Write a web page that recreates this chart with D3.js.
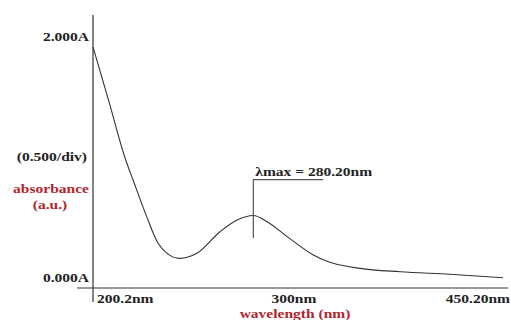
<!DOCTYPE html>
<html>
<head>
<meta charset="utf-8">
<script src="https://cdn.jsdelivr.net/npm/d3@7"></script>
<style>
    body { margin: 0; background: #fff; }
    text { font-family: "Liberation Serif", "Times New Roman", serif; font-weight: bold; }
    .lbl { fill: #222; }
    .red { fill: #b3242c; }
</style>
</head>
<body>
<div id="chart"></div>
<script>
// spectrum (wavelength nm, absorbance)
const wavelengths = [200.2, 208.2, 216.2, 220.2, 227.0, 232.6, 237.0, 243.6, 252.0, 263.6, 272.1, 280.2, 287.1, 297.1, 314.2, 324.7, 328.1, 346.8, 374.8, 409.7, 446.7];
const absorbance = [2.000, 1.544, 1.079, 0.896, 0.592, 0.373, 0.290, 0.246, 0.288, 0.467, 0.564, 0.602, 0.550, 0.426, 0.274, 0.218, 0.205, 0.163, 0.135, 0.114, 0.085];

const xTicks = [200.2, 300, 450.2];
const xTickLabels = ['200.2nm', '300nm', '450.20nm'];
const yTicks = [0, 2];
const yTickLabels = ['0.000A', '2.000A'];

const lambdaMax = 280.2;
const lambdaLabel = 'λmax = 280.20nm';

const width = 511;
const height = 320;

const svg = d3.select('#chart')
    .append('svg')
    .attr('width', width)
    .attr('height', height);

// axis labels are spaced unevenly in the source, so the x scale is piecewise
const xScale = d3.scaleLinear().domain(xTicks).range([93, 293, 508]);
const yScale = d3.scaleLinear().domain([0, 2]).range([288, 47]);

const stretch = 1.15;
function addText(x, y, str, anchor, cls) {
    svg.append('text')
        .attr('class', cls)
        .attr('transform', 'translate(' + x + ',' + y + ') scale(' + stretch + ',1)')
        .attr('text-anchor', anchor)
        .attr('dominant-baseline', 'central')
        .attr('font-size', 13.5)
        .text(str);
}

// axes
svg.append('line')
    .attr('x1', xScale(200.2)).attr('x2', xScale(200.2))
    .attr('y1', 15).attr('y2', 302)
    .attr('stroke', '#333').attr('stroke-width', 1.2);

svg.append('line')
    .attr('x1', 77).attr('x2', xScale(450.2))
    .attr('y1', yScale(0)).attr('y2', yScale(0))
    .attr('stroke', '#333').attr('stroke-width', 1.2);

// spectrum
const pts = wavelengths.map((w, i) => ({ x: w, y: absorbance[i] }));
const line = d3.line()
    .x(d => xScale(d.x))
    .y(d => yScale(d.y))
    .curve(d3.curveMonotoneX);

svg.append('path')
    .datum(pts)
    .attr('d', line)
    .attr('fill', 'none')
    .attr('stroke', '#333')
    .attr('stroke-width', 1.1);

// lambda max marker
const peakX = xScale(lambdaMax);
svg.append('path')
    .attr('d', 'M' + peakX + ',' + yScale(0.415) + 'V' + yScale(0.9) + 'H' + xScale(321))
    .attr('fill', 'none')
    .attr('stroke', '#555')
    .attr('stroke-width', 1.2);
addText(peakX + 2, yScale(0.9) - 8, lambdaLabel, 'start', 'lbl');

// tick labels
yTicks.forEach((v, i) => addText(89, yScale(v) - 11, yTickLabels[i], 'end', 'lbl'));
addText(xScale(xTicks[0]) + 4, 298, xTickLabels[0], 'start', 'lbl');
addText(xScale(xTicks[1]) + 1, 298, xTickLabels[1], 'middle', 'lbl');
addText(510, 298, xTickLabels[2], 'end', 'lbl');

// titles
addText(87, 156, '(0.500/div)', 'end', 'lbl');
addText(51, 188, 'absorbance', 'middle', 'red');
addText(50, 204, '(a.u.)', 'middle', 'red');
addText(295, 313, 'wavelength (nm)', 'middle', 'red');
</script>
</body>
</html>
